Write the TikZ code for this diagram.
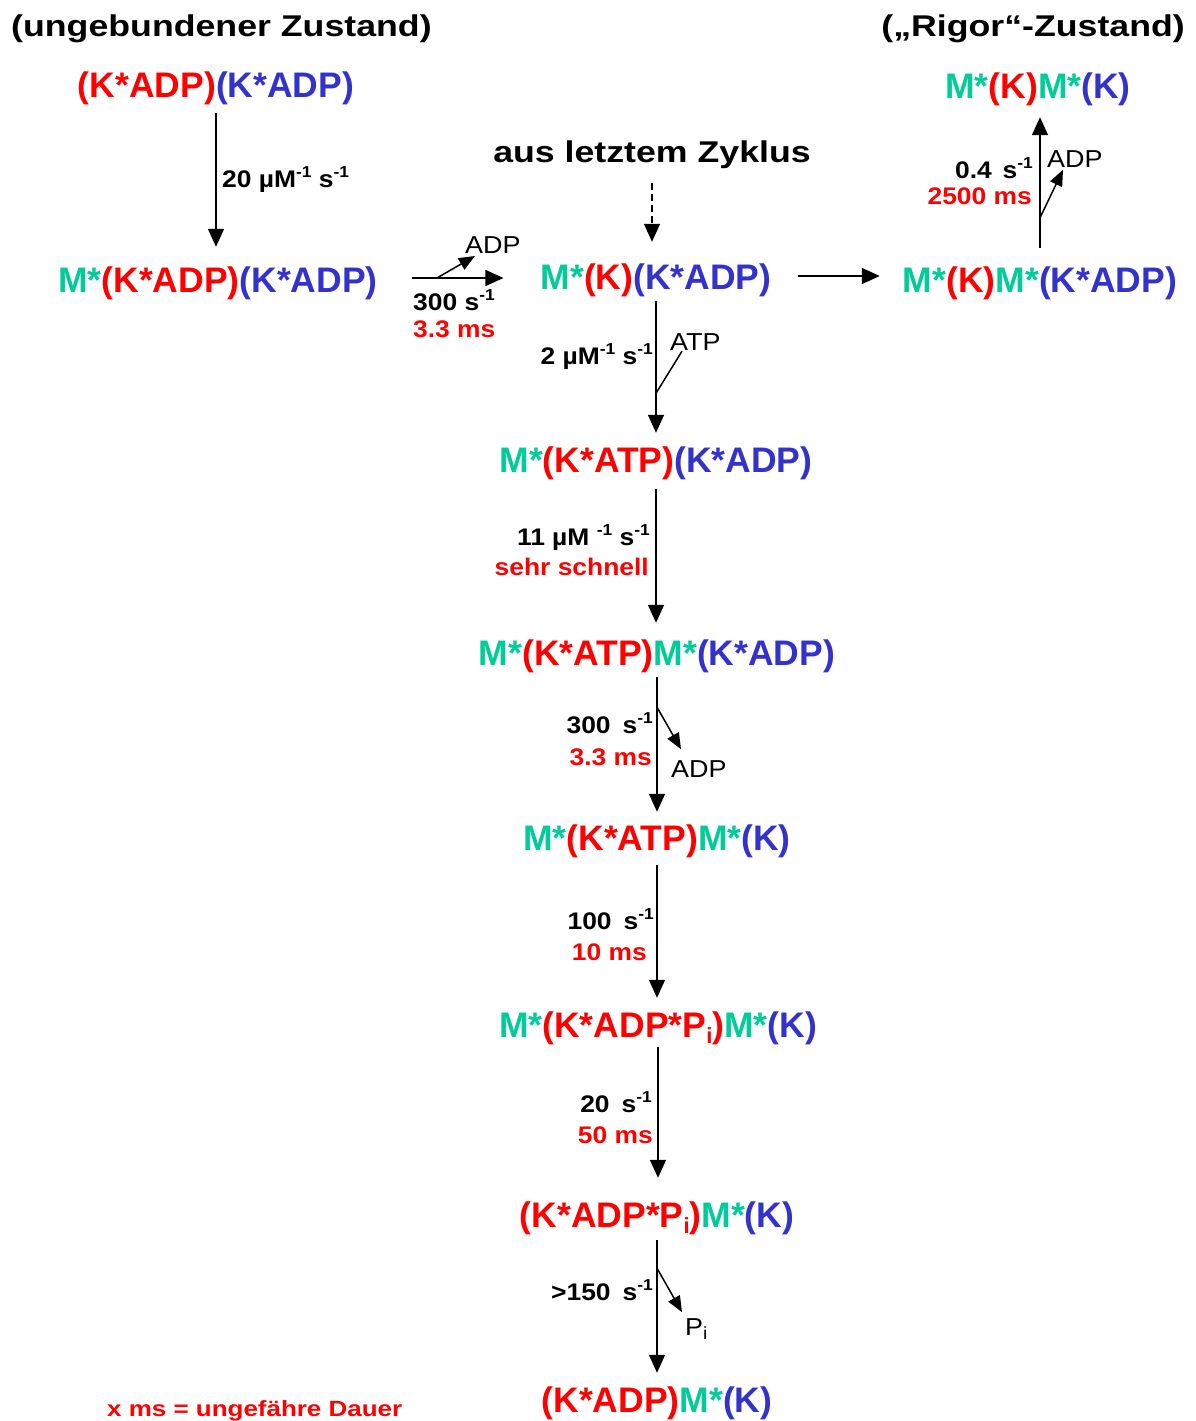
\documentclass[tikz,border=0pt]{standalone}
\usepackage{fontspec}
\setmainfont{Liberation Sans}
\newfontfamily\lblfont[FakeStretch=1.1]{Liberation Sans}
\newfontfamily\ttlfont[FakeStretch=1.19]{Liberation Sans}
\newfontfamily\notefont[FakeStretch=1.18]{Liberation Sans}
\usetikzlibrary{arrows.meta}
\definecolor{gr}{RGB}{0,204,153}
\definecolor{rd}{RGB}{255,0,0}
\definecolor{bl}{RGB}{51,51,204}
\newcommand\myup[1]{\raisebox{0.4em}{\scalebox{0.66}{#1}}}
\newcommand\mydn[1]{\raisebox{-0.17em}{\scalebox{0.62}{#1}}}
\newcommand\mysmdn[1]{\raisebox{-0.2em}{\scalebox{0.72}{#1}}}
\newcommand\cG[1]{\textcolor{gr}{#1}}
\newcommand\cR[1]{\textcolor{rd}{#1}}
\newcommand\cB[1]{\textcolor{bl}{#1}}
\tikzset{
  formula/.style={inner sep=0pt, anchor=base, text height=26pt, text depth=8pt,
    font=\fontsize{35.5}{40}\selectfont\bfseries},
  ttl/.style={inner sep=0pt, font=\ttlfont\fontsize{30}{36}\selectfont\bfseries},
  rate/.style={inner sep=0pt, font=\lblfont\fontsize{24}{28}\selectfont\bfseries},
  small/.style={inner sep=0pt, font=\lblfont\fontsize{24.5}{28}\selectfont},
  note/.style={inner sep=0pt, text=rd, font=\notefont\fontsize{22}{26}\selectfont\bfseries},
  arr/.style={line width=1.5pt, -{Triangle[length=18pt,width=16pt]}},
  sarr/.style={line width=1.5pt, -{Triangle[length=16pt,width=13pt]}},
}
\begin{document}
\begin{tikzpicture}[x=1pt,y=-1pt]
\useasboundingbox (0,0) rectangle (1196,1421);

% titles
\node[ttl, anchor=base west] (T1) at (11,37) {(ungebundener Zustand)};
\node[ttl, anchor=base east] (T2) at (1185,37) {(„Rigor“-Zustand)};
\node[ttl, anchor=base] (Z) at (652,162) {aus letztem Zyklus};

% formulas
\node[formula] (F0) at (216,97) {\cR{(K*ADP)}\cB{(K*ADP)}};
\node[formula] (FR) at (1038,98) {\cG{M*}\cR{(K)}\cG{M*}\cB{(K)}};
\node[formula] (F1) at (218,292) {\cG{M*}\cR{(K*ADP)}\cB{(K*ADP)}};
\node[formula] (F2) at (656,289) {\cG{M*}\cR{(K)}\cB{(K*ADP)}};
\node[formula] (F3) at (1040,292) {\cG{M*}\cR{(K)}\cG{M*}\cB{(K*ADP)}};
\node[formula] (F4) at (656,472) {\cG{M*}\cR{(K*ATP)}\cB{(K*ADP)}};
\node[formula] (F5) at (657,665) {\cG{M*}\cR{(K*ATP)}\cG{M*}\cB{(K*ADP)}};
\node[formula] (F6) at (657,850) {\cG{M*}\cR{(K*ATP)}\cG{M*}\cB{(K)}};
\node[formula] (F7) at (658,1037) {\cG{M*}\cR{(K*ADP*P\mydn{i})}\cG{M*}\cB{(K)}};
\node[formula] (F8) at (657,1227) {\cR{(K*ADP*P\mydn{i})}\cG{M*}\cB{(K)}};
\node[formula] (F9) at (657,1412) {\cR{(K*ADP)}\cG{M*}\cB{(K)}};

% rate labels
\node[rate, anchor=base west] (r1) at (222,187) {20 µM\myup{-1} s\myup{-1}};
\node[rate, anchor=base west] (r2) at (413,310) {300 s\myup{-1}};
\node[rate, anchor=base west, text=rd] (r2t) at (413,337) {3.3 ms};
\node[small, anchor=base west] (l2) at (465,253) {ADP};
\node[rate, anchor=base east] (r3) at (1033,178) {0.4\hspace{0.45em}s\myup{-1}};
\node[rate, anchor=base east, text=rd] (r3t) at (1032,204) {2500 ms};
\node[small, anchor=base west] (l3) at (1047,167) {ADP};
\node[rate, anchor=base east] (r4) at (653,364) {2 µM\myup{-1} s\myup{-1}};
\node[small, anchor=base west] (l4) at (670,350) {ATP};
\node[rate, anchor=base east] (r5) at (650,545) {11 µM \myup{-1} s\myup{-1}};
\node[rate, anchor=base east, text=rd] (r5t) at (649,575) {sehr schnell};
\node[rate, anchor=base east] (r6) at (653,733) {300\hspace{0.5em}s\myup{-1}};
\node[rate, anchor=base east, text=rd] (r6t) at (652,765) {3.3 ms};
\node[small, anchor=base west] (l6) at (671,777) {ADP};
\node[rate, anchor=base east] (r7) at (654,929) {100\hspace{0.5em}s\myup{-1}};
\node[rate, anchor=base east, text=rd] (r7t) at (647,960) {10 ms};
\node[rate, anchor=base east] (r8) at (652,1112) {20\hspace{0.5em}s\myup{-1}};
\node[rate, anchor=base east, text=rd] (r8t) at (653,1143) {50 ms};
\node[rate, anchor=base east] (r9) at (653,1300) {>150\hspace{0.5em}s\myup{-1}};
\node[small, anchor=base west] (l9) at (685,1335) {P\mysmdn{i}};
\node[note, anchor=base west] (N) at (107,1416) {x ms = ungefähre Dauer};

% connectors
\draw[arr, shorten <=8pt, shorten >=19pt] (F0.south) -- (F0.south |- F1.north);

\coordinate (h1) at ([yshift=5pt]F1.east);
\draw[arr, shorten <=34pt, shorten >=37pt] (h1) -- (h1 -| F2.west);
\draw[sarr] ([xshift=59pt]h1) -- ++(38,-22);

\draw[arr, line width=1.2pt, dash pattern=on 7pt off 4pt, shorten <=15pt, shorten >=21pt]
  (Z.south) -- (Z.south |- F2.north);

\coordinate (h2) at ([yshift=4pt]F2.east);
\draw[arr, shorten <=26pt, shorten >=23pt] (h2) -- (h2 -| F3.west);

\draw[arr, shorten <=18pt, shorten >=11pt] (F3.north) -- (F3.north |- FR.south);
\draw[sarr] ([yshift=48pt]F3.north) -- ++(23,-48);

\draw[arr, shorten <=4pt, shorten >=13pt] (F2.south) -- (F2.south |- F4.north);
\draw[line width=1.5pt] ([yshift=-96pt]F2.south) -- ++(26,-42);

\draw[arr, shorten <=9pt, shorten >=16pt] (F4.south) -- (F4.south |- F5.north);

\draw[arr, shorten <=4pt, shorten >=12pt] (F5.south) -- (F5.south |- F6.north);
\draw[sarr] ([yshift=-34pt]F5.south) -- ++(24,42);

\draw[arr, shorten <=7pt, shorten >=13pt] (F6.south) -- (F6.south |- F7.north);

\draw[arr, shorten <=2pt, shorten >=23pt] (F7.south) -- (F7.south |- F8.north);

\draw[arr, shorten <=5pt, shorten >=13pt] (F8.south) -- (F8.south |- F9.north);
\draw[sarr] ([yshift=-33pt]F8.south) -- ++(25,44);
\end{tikzpicture}
\end{document}
